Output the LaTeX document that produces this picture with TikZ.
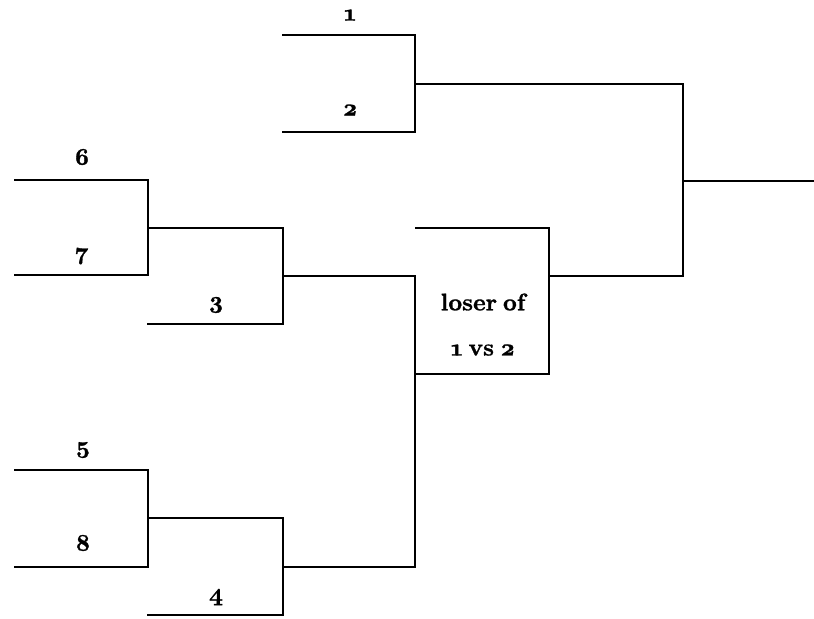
\documentclass[tikz,border=0pt]{standalone}
\usepackage{fontspec}
\setmainfont{lmroman10}[Extension=.otf, UprightFont=*-regular, BoldFont=*-bold, BoldFeatures={FakeBold=1.2, WordSpace=0.65}, Numbers=OldStyle]
\begin{document}
\begin{tikzpicture}[x=0.75pt,y=-0.75pt,
  br/.style={line width=1.5pt, line cap=rect, line join=miter},
  lbl/.style={font=\bfseries\fontsize{18}{21}\selectfont, inner sep=0pt}]
\useasboundingbox (0,0) rectangle (814,618);
% coordinates
\coordinate (a1) at (283,35); \coordinate (a2) at (415,35);
\coordinate (a3) at (415,132); \coordinate (a4) at (283,132);
\coordinate (am) at (415,84); \coordinate (fm) at (683,84);
\coordinate (fb) at (683,276); \coordinate (fo) at (814,181); \coordinate (fc) at (683,181);
\coordinate (b1) at (15,180); \coordinate (b2) at (148,180);
\coordinate (b3) at (148,275); \coordinate (b4) at (15,275);
\coordinate (bm) at (148,228); \coordinate (c2) at (283,228);
\coordinate (c3) at (283,324); \coordinate (c4) at (148,324);
\coordinate (cm) at (283,276); \coordinate (d2) at (415,276);
\coordinate (d3) at (415,567); \coordinate (dm) at (283,567);
\coordinate (l1) at (416,228); \coordinate (l2) at (549,228);
\coordinate (l3) at (549,374); \coordinate (l4) at (415,374);
\coordinate (lm) at (549,276);
\coordinate (e1) at (15,470); \coordinate (e2) at (148,470);
\coordinate (e3) at (148,567); \coordinate (e4) at (15,567);
\coordinate (em) at (148,518); \coordinate (g2) at (283,518);
\coordinate (g3) at (283,615); \coordinate (g4) at (148,615);
% bracket lines
\draw[br] (a1) -- (a2) -- (a3) -- (a4);
\draw[br] (am) -- (fm) -- (fb) -- (lm);
\draw[br] (fc) -- (fo);
\draw[br] (b1) -- (b2) -- (b3) -- (b4);
\draw[br] (bm) -- (c2) -- (c3) -- (c4);
\draw[br] (cm) -- (d2) -- (d3) -- (dm);
\draw[br] (l1) -- (l2) -- (l3) -- (l4);
\draw[br] (e1) -- (e2) -- (e3) -- (e4);
\draw[br] (em) -- (g2) -- (g3) -- (g4);
% labels
\node[lbl] (t1) at (350,15) {1};
\node[lbl] (t2) at (350,110) {2};
\node[lbl] (t6) at (82,157) {6};
\node[lbl] (t7) at (82,256) {7};
\node[lbl] (t3) at (216,305) {3};
\node[lbl] (t5) at (83,450) {5};
\node[lbl] (t8) at (83,543) {8};
\node[lbl] (t4) at (216,597) {4};
\node[lbl] (tl) at (483,302) {loser of};
\node[lbl] (tv) at (483,350) {1 vs 2};
\end{tikzpicture}
\end{document}
